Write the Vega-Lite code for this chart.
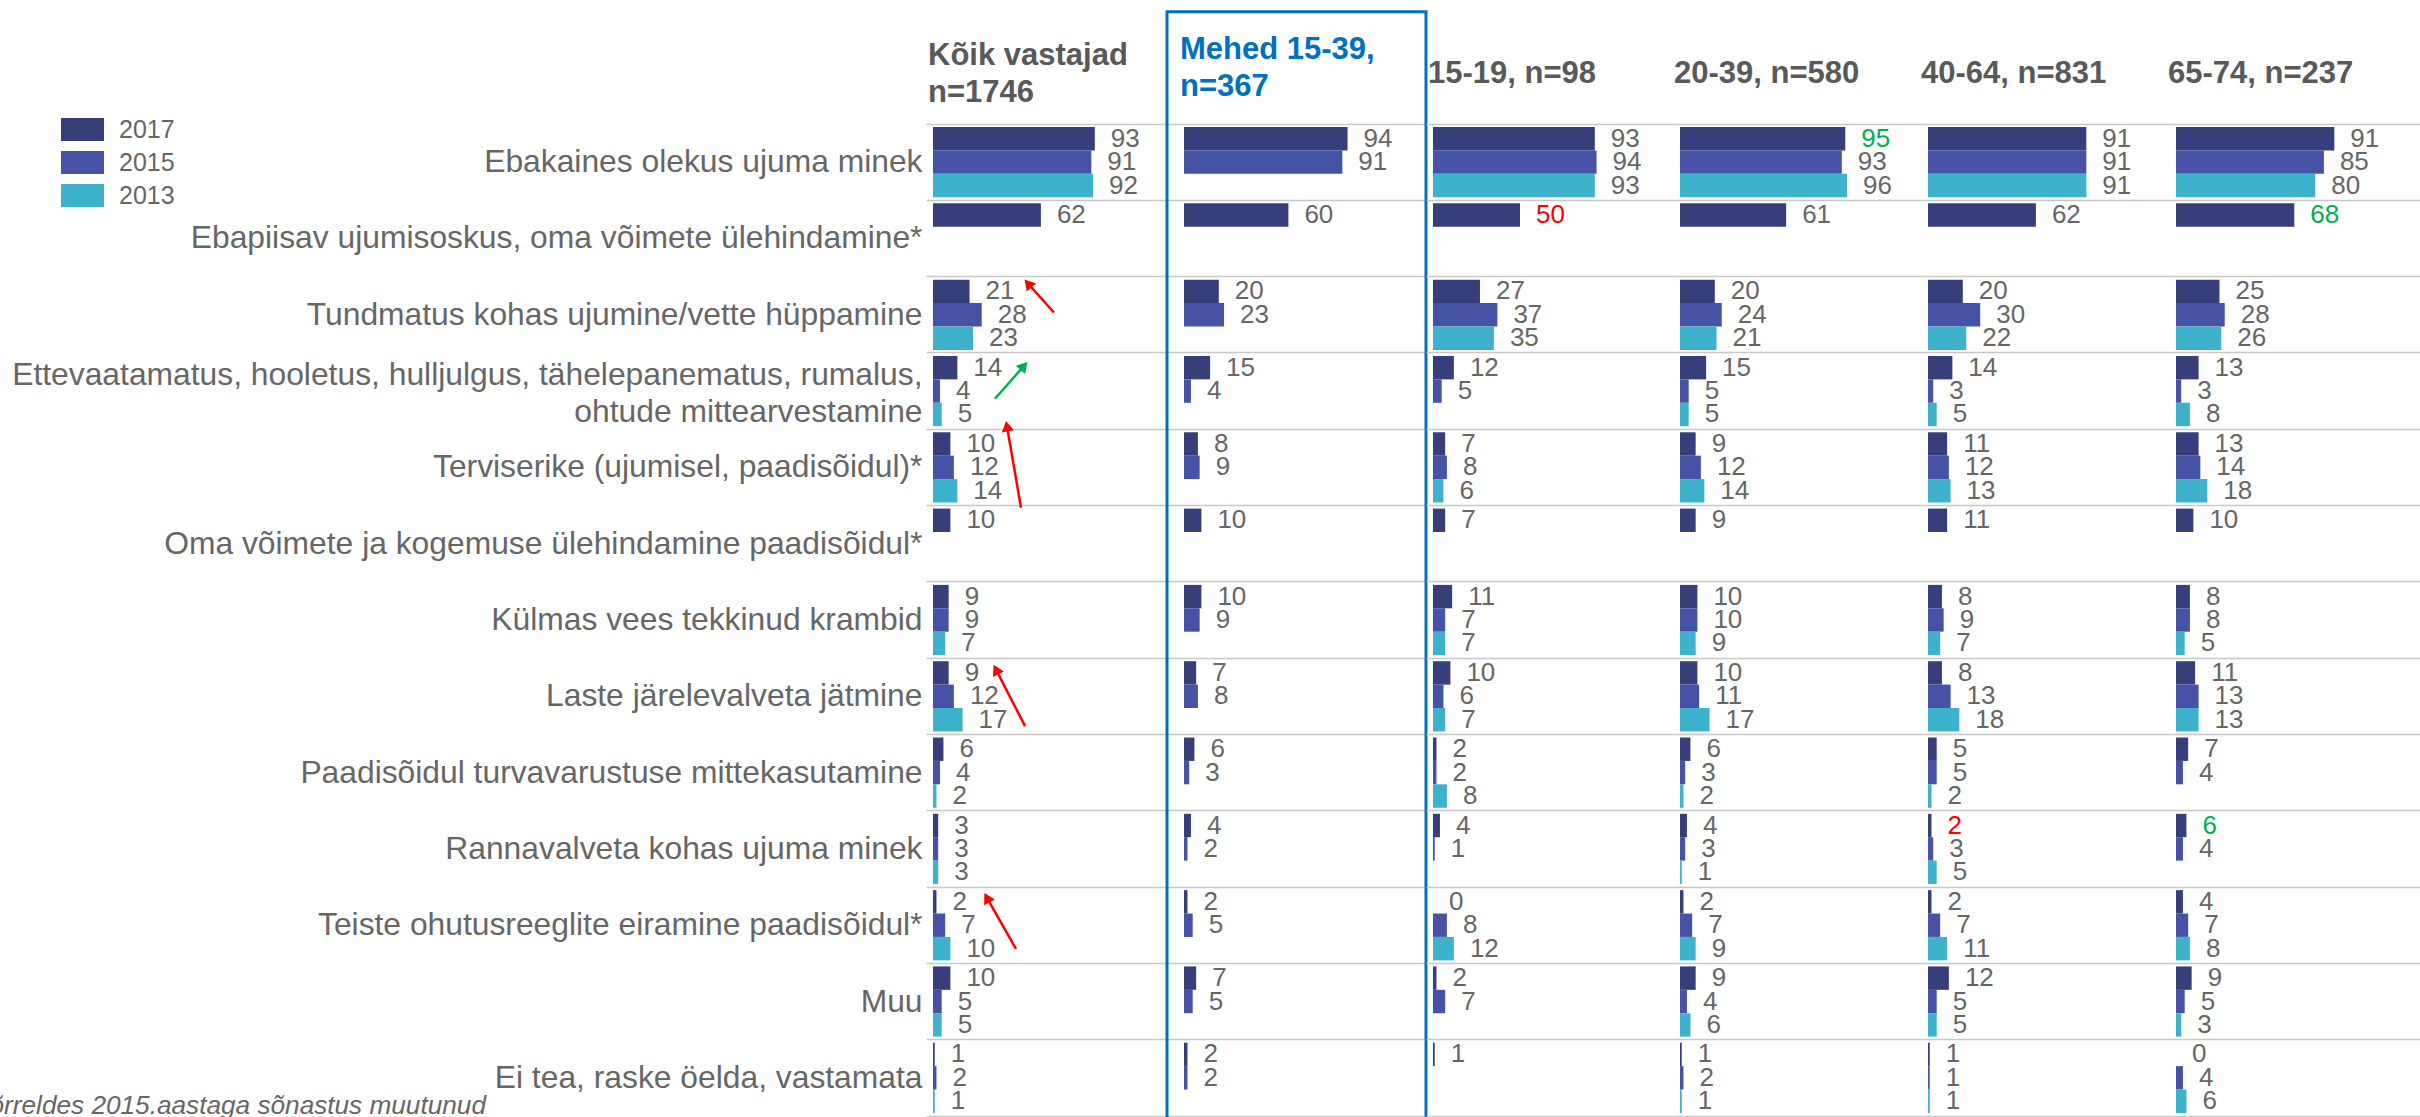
{
  "$schema": "https://vega.github.io/schema/vega-lite/v6.json",
  "autosize": {"type": "none"},
  "padding": {"left": 926, "top": 124, "right": 1494, "bottom": 993},
  "background": "white",
  "spacing": 0,
  "bounds": "flush",
  "datasets": {
    "cats": [
      {"k": 1, "cat": "Ebakaines olekus ujuma minek"},
      {"k": 2, "cat": "Ebapiisav ujumisoskus, oma võimete ülehindamine*"},
      {"k": 3, "cat": "Tundmatus kohas ujumine/vette hüppamine"},
      {"k": 4, "cat": "Ettevaatamatus, hooletus, hulljulgus, tähelepanematus, rumalus, ohtude mittearvestamine"},
      {"k": 5, "cat": "Terviserike (ujumisel, paadisõidul)*"},
      {"k": 6, "cat": "Oma võimete ja kogemuse ülehindamine paadisõidul*"},
      {"k": 7, "cat": "Külmas vees tekkinud krambid"},
      {"k": 8, "cat": "Laste järelevalveta jätmine"},
      {"k": 9, "cat": "Paadisõidul turvavarustuse mittekasutamine"},
      {"k": 10, "cat": "Rannavalveta kohas ujuma minek"},
      {"k": 11, "cat": "Teiste ohutusreeglite eiramine paadisõidul*"},
      {"k": 12, "cat": "Muu"},
      {"k": 13, "cat": "Ei tea, raske öelda, vastamata"}
    ],
    "vals": [
      {"g":"K","k":1,"year":"2017","v":93},{"g":"K","k":1,"year":"2015","v":91},{"g":"K","k":1,"year":"2013","v":92},
      {"g":"K","k":2,"year":"2017","v":62},
      {"g":"K","k":3,"year":"2017","v":21},{"g":"K","k":3,"year":"2015","v":28},{"g":"K","k":3,"year":"2013","v":23},
      {"g":"K","k":4,"year":"2017","v":14},{"g":"K","k":4,"year":"2015","v":4},{"g":"K","k":4,"year":"2013","v":5},
      {"g":"K","k":5,"year":"2017","v":10},{"g":"K","k":5,"year":"2015","v":12},{"g":"K","k":5,"year":"2013","v":14},
      {"g":"K","k":6,"year":"2017","v":10},
      {"g":"K","k":7,"year":"2017","v":9},{"g":"K","k":7,"year":"2015","v":9},{"g":"K","k":7,"year":"2013","v":7},
      {"g":"K","k":8,"year":"2017","v":9},{"g":"K","k":8,"year":"2015","v":12},{"g":"K","k":8,"year":"2013","v":17},
      {"g":"K","k":9,"year":"2017","v":6},{"g":"K","k":9,"year":"2015","v":4},{"g":"K","k":9,"year":"2013","v":2},
      {"g":"K","k":10,"year":"2017","v":3},{"g":"K","k":10,"year":"2015","v":3},{"g":"K","k":10,"year":"2013","v":3},
      {"g":"K","k":11,"year":"2017","v":2},{"g":"K","k":11,"year":"2015","v":7},{"g":"K","k":11,"year":"2013","v":10},
      {"g":"K","k":12,"year":"2017","v":10},{"g":"K","k":12,"year":"2015","v":5},{"g":"K","k":12,"year":"2013","v":5},
      {"g":"K","k":13,"year":"2017","v":1},{"g":"K","k":13,"year":"2015","v":2},{"g":"K","k":13,"year":"2013","v":1},

      {"g":"M","k":1,"year":"2017","v":94},{"g":"M","k":1,"year":"2015","v":91},
      {"g":"M","k":2,"year":"2017","v":60},
      {"g":"M","k":3,"year":"2017","v":20},{"g":"M","k":3,"year":"2015","v":23},
      {"g":"M","k":4,"year":"2017","v":15},{"g":"M","k":4,"year":"2015","v":4},
      {"g":"M","k":5,"year":"2017","v":8},{"g":"M","k":5,"year":"2015","v":9},
      {"g":"M","k":6,"year":"2017","v":10},
      {"g":"M","k":7,"year":"2017","v":10},{"g":"M","k":7,"year":"2015","v":9},
      {"g":"M","k":8,"year":"2017","v":7},{"g":"M","k":8,"year":"2015","v":8},
      {"g":"M","k":9,"year":"2017","v":6},{"g":"M","k":9,"year":"2015","v":3},
      {"g":"M","k":10,"year":"2017","v":4},{"g":"M","k":10,"year":"2015","v":2},
      {"g":"M","k":11,"year":"2017","v":2},{"g":"M","k":11,"year":"2015","v":5},
      {"g":"M","k":12,"year":"2017","v":7},{"g":"M","k":12,"year":"2015","v":5},
      {"g":"M","k":13,"year":"2017","v":2},{"g":"M","k":13,"year":"2015","v":2},

      {"g":"A","k":1,"year":"2017","v":93},{"g":"A","k":1,"year":"2015","v":94},{"g":"A","k":1,"year":"2013","v":93},
      {"g":"A","k":2,"year":"2017","v":50,"sig":"lo"},
      {"g":"A","k":3,"year":"2017","v":27},{"g":"A","k":3,"year":"2015","v":37},{"g":"A","k":3,"year":"2013","v":35},
      {"g":"A","k":4,"year":"2017","v":12},{"g":"A","k":4,"year":"2015","v":5},
      {"g":"A","k":5,"year":"2017","v":7},{"g":"A","k":5,"year":"2015","v":8},{"g":"A","k":5,"year":"2013","v":6},
      {"g":"A","k":6,"year":"2017","v":7},
      {"g":"A","k":7,"year":"2017","v":11},{"g":"A","k":7,"year":"2015","v":7},{"g":"A","k":7,"year":"2013","v":7},
      {"g":"A","k":8,"year":"2017","v":10},{"g":"A","k":8,"year":"2015","v":6},{"g":"A","k":8,"year":"2013","v":7},
      {"g":"A","k":9,"year":"2017","v":2},{"g":"A","k":9,"year":"2015","v":2},{"g":"A","k":9,"year":"2013","v":8},
      {"g":"A","k":10,"year":"2017","v":4},{"g":"A","k":10,"year":"2015","v":1},
      {"g":"A","k":11,"year":"2017","v":0},{"g":"A","k":11,"year":"2015","v":8},{"g":"A","k":11,"year":"2013","v":12},
      {"g":"A","k":12,"year":"2017","v":2},{"g":"A","k":12,"year":"2015","v":7},
      {"g":"A","k":13,"year":"2017","v":1},

      {"g":"B","k":1,"year":"2017","v":95,"sig":"hi"},{"g":"B","k":1,"year":"2015","v":93},{"g":"B","k":1,"year":"2013","v":96},
      {"g":"B","k":2,"year":"2017","v":61},
      {"g":"B","k":3,"year":"2017","v":20},{"g":"B","k":3,"year":"2015","v":24},{"g":"B","k":3,"year":"2013","v":21},
      {"g":"B","k":4,"year":"2017","v":15},{"g":"B","k":4,"year":"2015","v":5},{"g":"B","k":4,"year":"2013","v":5},
      {"g":"B","k":5,"year":"2017","v":9},{"g":"B","k":5,"year":"2015","v":12},{"g":"B","k":5,"year":"2013","v":14},
      {"g":"B","k":6,"year":"2017","v":9},
      {"g":"B","k":7,"year":"2017","v":10},{"g":"B","k":7,"year":"2015","v":10},{"g":"B","k":7,"year":"2013","v":9},
      {"g":"B","k":8,"year":"2017","v":10},{"g":"B","k":8,"year":"2015","v":11},{"g":"B","k":8,"year":"2013","v":17},
      {"g":"B","k":9,"year":"2017","v":6},{"g":"B","k":9,"year":"2015","v":3},{"g":"B","k":9,"year":"2013","v":2},
      {"g":"B","k":10,"year":"2017","v":4},{"g":"B","k":10,"year":"2015","v":3},{"g":"B","k":10,"year":"2013","v":1},
      {"g":"B","k":11,"year":"2017","v":2},{"g":"B","k":11,"year":"2015","v":7},{"g":"B","k":11,"year":"2013","v":9},
      {"g":"B","k":12,"year":"2017","v":9},{"g":"B","k":12,"year":"2015","v":4},{"g":"B","k":12,"year":"2013","v":6},
      {"g":"B","k":13,"year":"2017","v":1},{"g":"B","k":13,"year":"2015","v":2},{"g":"B","k":13,"year":"2013","v":1},

      {"g":"C","k":1,"year":"2017","v":91},{"g":"C","k":1,"year":"2015","v":91},{"g":"C","k":1,"year":"2013","v":91},
      {"g":"C","k":2,"year":"2017","v":62},
      {"g":"C","k":3,"year":"2017","v":20},{"g":"C","k":3,"year":"2015","v":30},{"g":"C","k":3,"year":"2013","v":22},
      {"g":"C","k":4,"year":"2017","v":14},{"g":"C","k":4,"year":"2015","v":3},{"g":"C","k":4,"year":"2013","v":5},
      {"g":"C","k":5,"year":"2017","v":11},{"g":"C","k":5,"year":"2015","v":12},{"g":"C","k":5,"year":"2013","v":13},
      {"g":"C","k":6,"year":"2017","v":11},
      {"g":"C","k":7,"year":"2017","v":8},{"g":"C","k":7,"year":"2015","v":9},{"g":"C","k":7,"year":"2013","v":7},
      {"g":"C","k":8,"year":"2017","v":8},{"g":"C","k":8,"year":"2015","v":13},{"g":"C","k":8,"year":"2013","v":18},
      {"g":"C","k":9,"year":"2017","v":5},{"g":"C","k":9,"year":"2015","v":5},{"g":"C","k":9,"year":"2013","v":2},
      {"g":"C","k":10,"year":"2017","v":2,"sig":"lo"},{"g":"C","k":10,"year":"2015","v":3},{"g":"C","k":10,"year":"2013","v":5},
      {"g":"C","k":11,"year":"2017","v":2},{"g":"C","k":11,"year":"2015","v":7},{"g":"C","k":11,"year":"2013","v":11},
      {"g":"C","k":12,"year":"2017","v":12},{"g":"C","k":12,"year":"2015","v":5},{"g":"C","k":12,"year":"2013","v":5},
      {"g":"C","k":13,"year":"2017","v":1},{"g":"C","k":13,"year":"2015","v":1},{"g":"C","k":13,"year":"2013","v":1},

      {"g":"D","k":1,"year":"2017","v":91},{"g":"D","k":1,"year":"2015","v":85},{"g":"D","k":1,"year":"2013","v":80},
      {"g":"D","k":2,"year":"2017","v":68,"sig":"hi"},
      {"g":"D","k":3,"year":"2017","v":25},{"g":"D","k":3,"year":"2015","v":28},{"g":"D","k":3,"year":"2013","v":26},
      {"g":"D","k":4,"year":"2017","v":13},{"g":"D","k":4,"year":"2015","v":3},{"g":"D","k":4,"year":"2013","v":8},
      {"g":"D","k":5,"year":"2017","v":13},{"g":"D","k":5,"year":"2015","v":14},{"g":"D","k":5,"year":"2013","v":18},
      {"g":"D","k":6,"year":"2017","v":10},
      {"g":"D","k":7,"year":"2017","v":8},{"g":"D","k":7,"year":"2015","v":8},{"g":"D","k":7,"year":"2013","v":5},
      {"g":"D","k":8,"year":"2017","v":11},{"g":"D","k":8,"year":"2015","v":13},{"g":"D","k":8,"year":"2013","v":13},
      {"g":"D","k":9,"year":"2017","v":7},{"g":"D","k":9,"year":"2015","v":4},
      {"g":"D","k":10,"year":"2017","v":6,"sig":"hi"},{"g":"D","k":10,"year":"2015","v":4},
      {"g":"D","k":11,"year":"2017","v":4},{"g":"D","k":11,"year":"2015","v":7},{"g":"D","k":11,"year":"2013","v":8},
      {"g":"D","k":12,"year":"2017","v":9},{"g":"D","k":12,"year":"2015","v":5},{"g":"D","k":12,"year":"2013","v":3},
      {"g":"D","k":13,"year":"2017","v":0},{"g":"D","k":13,"year":"2015","v":4},{"g":"D","k":13,"year":"2013","v":6}
    ],
    "arrows": [
      {"dir": "down", "x1": 69.5, "y1": 2.47, "x2": 54.6, "y2": 2.09, "ang": 319},
      {"dir": "up", "x1": 35.6, "y1": 3.60, "x2": 52.3, "y2": 3.17, "ang": 41},
      {"dir": "down", "x1": 50.6, "y1": 5.03, "x2": 42.5, "y2": 3.96, "ang": 350},
      {"dir": "down", "x1": 52.9, "y1": 7.89, "x2": 36.2, "y2": 7.15, "ang": 333},
      {"dir": "down", "x1": 47.7, "y1": 10.81, "x2": 31.0, "y2": 10.14, "ang": 331}
    ]
  },
  "hconcat": [
    {
      "width": 241, "height": 992,
      "title": {"text": ["Kõik vastajad", "n=1746"], "offset": 8, "dx": 2},
      "data": {"name": "vals"},
      "transform": [{"filter": "datum.g == 'K'"}, {"lookup": "k", "from": {"data": {"name": "cats"}, "key": "k", "fields": ["cat"]}}],
      "layer": [
        {"layer": [
          {"mark": {"type": "bar"},
           "encoding": {
             "y": {"field": "cat", "type": "nominal", "sort": {"field": "k", "op": "min"}, "scale": {"paddingInner": 0, "paddingOuter": 0},
                   "axis": {"labels": true, "labelFontSize": 31.8, "labelColor": "#666666", "labelPadding": 4, "labelLimit": 1200, "labelLineHeight": 37,
                            "labelExpr": "datum.label == 'Ettevaatamatus, hooletus, hulljulgus, tähelepanematus, rumalus, ohtude mittearvestamine' ? ['Ettevaatamatus, hooletus, hulljulgus, tähelepanematus, rumalus,', 'ohtude mittearvestamine'] : datum.label",
                            "labelOffset": {"condition": {"test": "datum.value == 'Ettevaatamatus, hooletus, hulljulgus, tähelepanematus, rumalus, ohtude mittearvestamine'", "value": -16}, "value": 0},
                            "grid": true, "bandPosition": 0, "domain": false, "ticks": false, "title": null}},
             "yOffset": {"field": "year", "type": "nominal", "scale": {"domain": ["2017", "2015", "2013"], "paddingInner": 0, "paddingOuter": 0.13}},
             "x": {"field": "v", "type": "quantitative", "scale": {"domain": [-4.02, 134.48], "nice": false, "zero": false}, "axis": {"domain": true, "grid": false, "labels": false, "ticks": false, "title": null}},
             "x2": {"datum": 0},
             "color": {"field": "year", "type": "nominal", "scale": {"domain": ["2017", "2015", "2013"], "range": ["#363f7a", "#4652a5", "#3eb1cb"]},
                       "legend": {"orient": "none", "legendX": -856, "legendY": -7, "title": null, "symbolType": "M-2,-1.06H2V1.06H-2Z", "symbolSize": 462, "symbolStrokeWidth": 0, "symbolOpacity": 1, "labelFontSize": 25, "labelColor": "#666666", "labelOffset": 24, "rowPadding": 7, "padding": 0}}
           }},
          {"mark": {"type": "text", "align": "left", "baseline": "middle", "dx": 16, "fontSize": 26},
           "encoding": {
             "y": {"field": "cat", "type": "nominal", "sort": {"field": "k", "op": "min"}, "scale": {"paddingInner": 0, "paddingOuter": 0}},
             "yOffset": {"field": "year", "type": "nominal", "scale": {"domain": ["2017", "2015", "2013"], "paddingInner": 0, "paddingOuter": 0.13}},
             "x": {"field": "v", "type": "quantitative", "scale": {"domain": [-4.02, 134.48], "nice": false, "zero": false}},
             "text": {"field": "v", "type": "quantitative"},
             "color": {"condition": [{"test": "datum.sig == 'hi'", "value": "#00b050"}, {"test": "datum.sig == 'lo'", "value": "#ff0000"}], "value": "#666666"}
           }}
        ]},
        {"layer": [
          {"data": {"name": "arrows"},
           "mark": {"type": "rule", "strokeWidth": 2.5},
           "encoding": {
             "x": {"field": "x1", "type": "quantitative", "scale": {"domain": [-4.02, 134.48], "nice": false, "zero": false}},
             "x2": {"field": "x2"},
             "y": {"field": "y1", "type": "quantitative", "scale": {"domain": [0, 13], "reverse": true, "nice": false, "zero": false}, "axis": null},
             "y2": {"field": "y2"},
             "color": {"condition": {"test": "datum.dir == 'up'", "value": "#00b050"}, "value": "#ff0000"}
           }},
          {"data": {"name": "arrows"},
           "mark": {"type": "point", "shape": "triangle-up", "filled": true, "size": 150, "opacity": 1},
           "encoding": {
             "x": {"field": "x2", "type": "quantitative", "scale": {"domain": [-4.02, 134.48], "nice": false, "zero": false}},
             "y": {"field": "y2", "type": "quantitative", "scale": {"domain": [0, 13], "reverse": true, "nice": false, "zero": false}, "axis": null},
             "angle": {"field": "ang", "type": "quantitative", "scale": null},
             "color": {"condition": {"test": "datum.dir == 'up'", "value": "#00b050"}, "value": "#ff0000"}
           }},
          {"data": {"values": [{"note": "*Võrreldes 2015.aastaga sõnastus muutunud"}]},
           "mark": {"type": "text", "align": "right", "baseline": "alphabetic", "fontSize": 26.2, "fontStyle": "italic", "color": "#666666"},
           "encoding": {
             "x": {"datum": -256.9, "type": "quantitative", "scale": {"domain": [-4.02, 134.48], "nice": false, "zero": false}},
             "y": {"datum": 12.97, "type": "quantitative", "scale": {"domain": [0, 13], "reverse": true, "nice": false, "zero": false}, "axis": null},
             "text": {"field": "note"}
           }}
        ]}
      ],
      "resolve": {"scale": {"y": "independent"}}
    },
    {
      "width": 259, "height": 992,
      "title": {"text": ["Mehed 15-39,", "\u2007n=367"], "offset": -92.7, "dx": 13, "color": "#0070c0"},
      "data": {"name": "vals"},
      "transform": [{"filter": "datum.g == 'M'"}, {"lookup": "k", "from": {"data": {"name": "cats"}, "key": "k", "fields": ["cat"]}}],
      "layer": [
        {"layer": [
          {"mark": {"type": "bar"},
           "encoding": {
             "y": {"field": "cat", "type": "nominal", "sort": {"field": "k", "op": "min"}, "scale": {"paddingInner": 0, "paddingOuter": 0},
                   "axis": {"labels": false, "grid": true, "bandPosition": 0, "domain": false, "ticks": false, "title": null}},
             "yOffset": {"field": "year", "type": "nominal", "scale": {"domain": ["2017", "2015", "2013"], "paddingInner": 0, "paddingOuter": 0.13}},
             "x": {"field": "v", "type": "quantitative", "scale": {"domain": [-9.77, 139.08], "nice": false, "zero": false}, "axis": {"domain": true, "grid": false, "labels": false, "ticks": false, "title": null}},
             "x2": {"datum": 0},
             "color": {"field": "year", "type": "nominal", "scale": {"domain": ["2017", "2015", "2013"], "range": ["#363f7a", "#4652a5", "#3eb1cb"]}, "legend": null}
           }},
          {"mark": {"type": "text", "align": "left", "baseline": "middle", "dx": 16, "fontSize": 26},
           "encoding": {
             "y": {"field": "cat", "type": "nominal", "sort": {"field": "k", "op": "min"}, "scale": {"paddingInner": 0, "paddingOuter": 0}},
             "yOffset": {"field": "year", "type": "nominal", "scale": {"domain": ["2017", "2015", "2013"], "paddingInner": 0, "paddingOuter": 0.13}},
             "x": {"field": "v", "type": "quantitative", "scale": {"domain": [-9.77, 139.08], "nice": false, "zero": false}},
             "text": {"field": "v", "type": "quantitative"},
             "color": {"condition": [{"test": "datum.sig == 'hi'", "value": "#00b050"}, {"test": "datum.sig == 'lo'", "value": "#ff0000"}], "value": "#666666"}
           }}
        ]},
        {"data": {"values": [{"box": "Mehed 15-39"}]},
         "mark": {"type": "rect", "fillOpacity": 0, "stroke": "#0070c0", "strokeWidth": 3},
         "encoding": {
           "x": {"datum": -9.77, "type": "quantitative", "scale": {"domain": [-9.77, 139.08], "nice": false, "zero": false}},
           "x2": {"datum": 139.08},
           "y": {"datum": -1.47, "type": "quantitative", "scale": {"domain": [0, 13], "reverse": true, "nice": false, "zero": false}, "axis": null},
           "y2": {"datum": 13.3}
         }}
      ],
      "resolve": {"scale": {"y": "independent"}}
    },
    {
      "width": 247, "height": 992,
      "title": {"text": "15-19, n=98", "offset": 34, "dx": 2},
      "data": {"name": "vals"},
      "transform": [{"filter": "datum.g == 'A'"}, {"lookup": "k", "from": {"data": {"name": "cats"}, "key": "k", "fields": ["cat"]}}],
      "layer": [
        {"mark": {"type": "bar"},
         "encoding": {
           "y": {"field": "cat", "type": "nominal", "sort": {"field": "k", "op": "min"}, "scale": {"paddingInner": 0, "paddingOuter": 0},
                 "axis": {"labels": false, "grid": true, "bandPosition": 0, "domain": false, "ticks": false, "title": null}},
           "yOffset": {"field": "year", "type": "nominal", "scale": {"domain": ["2017", "2015", "2013"], "paddingInner": 0, "paddingOuter": 0.13}},
           "x": {"field": "v", "type": "quantitative", "scale": {"domain": [-4.02, 137.93], "nice": false, "zero": false}, "axis": {"domain": true, "grid": false, "labels": false, "ticks": false, "title": null}},
           "x2": {"datum": 0},
           "color": {"field": "year", "type": "nominal", "scale": {"domain": ["2017", "2015", "2013"], "range": ["#363f7a", "#4652a5", "#3eb1cb"]}, "legend": null}
         }},
        {"mark": {"type": "text", "align": "left", "baseline": "middle", "dx": 16, "fontSize": 26},
         "encoding": {
           "y": {"field": "cat", "type": "nominal", "sort": {"field": "k", "op": "min"}, "scale": {"paddingInner": 0, "paddingOuter": 0}},
           "yOffset": {"field": "year", "type": "nominal", "scale": {"domain": ["2017", "2015", "2013"], "paddingInner": 0, "paddingOuter": 0.13}},
           "x": {"field": "v", "type": "quantitative", "scale": {"domain": [-4.02, 137.93], "nice": false, "zero": false}},
           "text": {"field": "v", "type": "quantitative"},
           "color": {"condition": [{"test": "datum.sig == 'hi'", "value": "#00b050"}, {"test": "datum.sig == 'lo'", "value": "#ff0000"}], "value": "#666666"}
         }}
      ]
    },
    {
      "width": 249, "height": 992,
      "title": {"text": "20-39, n=580", "offset": 34, "dx": 1},
      "data": {"name": "vals"},
      "transform": [{"filter": "datum.g == 'B'"}, {"lookup": "k", "from": {"data": {"name": "cats"}, "key": "k", "fields": ["cat"]}}],
      "layer": [
        {"mark": {"type": "bar"},
         "encoding": {
           "y": {"field": "cat", "type": "nominal", "sort": {"field": "k", "op": "min"}, "scale": {"paddingInner": 0, "paddingOuter": 0},
                 "axis": {"labels": false, "grid": true, "bandPosition": 0, "domain": false, "ticks": false, "title": null}},
           "yOffset": {"field": "year", "type": "nominal", "scale": {"domain": ["2017", "2015", "2013"], "paddingInner": 0, "paddingOuter": 0.13}},
           "x": {"field": "v", "type": "quantitative", "scale": {"domain": [-4.02, 139.08], "nice": false, "zero": false}, "axis": {"domain": true, "grid": false, "labels": false, "ticks": false, "title": null}},
           "x2": {"datum": 0},
           "color": {"field": "year", "type": "nominal", "scale": {"domain": ["2017", "2015", "2013"], "range": ["#363f7a", "#4652a5", "#3eb1cb"]}, "legend": null}
         }},
        {"mark": {"type": "text", "align": "left", "baseline": "middle", "dx": 16, "fontSize": 26},
         "encoding": {
           "y": {"field": "cat", "type": "nominal", "sort": {"field": "k", "op": "min"}, "scale": {"paddingInner": 0, "paddingOuter": 0}},
           "yOffset": {"field": "year", "type": "nominal", "scale": {"domain": ["2017", "2015", "2013"], "paddingInner": 0, "paddingOuter": 0.13}},
           "x": {"field": "v", "type": "quantitative", "scale": {"domain": [-4.02, 139.08], "nice": false, "zero": false}},
           "text": {"field": "v", "type": "quantitative"},
           "color": {"condition": [{"test": "datum.sig == 'hi'", "value": "#00b050"}, {"test": "datum.sig == 'lo'", "value": "#ff0000"}], "value": "#666666"}
         }}
      ]
    },
    {
      "width": 249, "height": 992,
      "title": {"text": "40-64, n=831", "offset": 34, "dx": -1},
      "data": {"name": "vals"},
      "transform": [{"filter": "datum.g == 'C'"}, {"lookup": "k", "from": {"data": {"name": "cats"}, "key": "k", "fields": ["cat"]}}],
      "layer": [
        {"mark": {"type": "bar"},
         "encoding": {
           "y": {"field": "cat", "type": "nominal", "sort": {"field": "k", "op": "min"}, "scale": {"paddingInner": 0, "paddingOuter": 0},
                 "axis": {"labels": false, "grid": true, "bandPosition": 0, "domain": false, "ticks": false, "title": null}},
           "yOffset": {"field": "year", "type": "nominal", "scale": {"domain": ["2017", "2015", "2013"], "paddingInner": 0, "paddingOuter": 0.13}},
           "x": {"field": "v", "type": "quantitative", "scale": {"domain": [-3.45, 139.65], "nice": false, "zero": false}, "axis": {"domain": true, "grid": false, "labels": false, "ticks": false, "title": null}},
           "x2": {"datum": 0},
           "color": {"field": "year", "type": "nominal", "scale": {"domain": ["2017", "2015", "2013"], "range": ["#363f7a", "#4652a5", "#3eb1cb"]}, "legend": null}
         }},
        {"mark": {"type": "text", "align": "left", "baseline": "middle", "dx": 16, "fontSize": 26},
         "encoding": {
           "y": {"field": "cat", "type": "nominal", "sort": {"field": "k", "op": "min"}, "scale": {"paddingInner": 0, "paddingOuter": 0}},
           "yOffset": {"field": "year", "type": "nominal", "scale": {"domain": ["2017", "2015", "2013"], "paddingInner": 0, "paddingOuter": 0.13}},
           "x": {"field": "v", "type": "quantitative", "scale": {"domain": [-3.45, 139.65], "nice": false, "zero": false}},
           "text": {"field": "v", "type": "quantitative"},
           "color": {"condition": [{"test": "datum.sig == 'hi'", "value": "#00b050"}, {"test": "datum.sig == 'lo'", "value": "#ff0000"}], "value": "#666666"}
         }}
      ]
    },
    {
      "width": 249, "height": 992,
      "title": {"text": "65-74, n=237", "offset": 34, "dx": -3},
      "data": {"name": "vals"},
      "transform": [{"filter": "datum.g == 'D'"}, {"lookup": "k", "from": {"data": {"name": "cats"}, "key": "k", "fields": ["cat"]}}],
      "layer": [
        {"mark": {"type": "bar"},
         "encoding": {
           "y": {"field": "cat", "type": "nominal", "sort": {"field": "k", "op": "min"}, "scale": {"paddingInner": 0, "paddingOuter": 0},
                 "axis": {"labels": false, "grid": true, "bandPosition": 0, "domain": false, "ticks": false, "title": null}},
           "yOffset": {"field": "year", "type": "nominal", "scale": {"domain": ["2017", "2015", "2013"], "paddingInner": 0, "paddingOuter": 0.13}},
           "x": {"field": "v", "type": "quantitative", "scale": {"domain": [-2.87, 140.23], "nice": false, "zero": false}, "axis": {"domain": true, "grid": false, "labels": false, "ticks": false, "title": null}},
           "x2": {"datum": 0},
           "color": {"field": "year", "type": "nominal", "scale": {"domain": ["2017", "2015", "2013"], "range": ["#363f7a", "#4652a5", "#3eb1cb"]}, "legend": null}
         }},
        {"mark": {"type": "text", "align": "left", "baseline": "middle", "dx": 16, "fontSize": 26},
         "encoding": {
           "y": {"field": "cat", "type": "nominal", "sort": {"field": "k", "op": "min"}, "scale": {"paddingInner": 0, "paddingOuter": 0}},
           "yOffset": {"field": "year", "type": "nominal", "scale": {"domain": ["2017", "2015", "2013"], "paddingInner": 0, "paddingOuter": 0.13}},
           "x": {"field": "v", "type": "quantitative", "scale": {"domain": [-2.87, 140.23], "nice": false, "zero": false}},
           "text": {"field": "v", "type": "quantitative"},
           "color": {"condition": [{"test": "datum.sig == 'hi'", "value": "#00b050"}, {"test": "datum.sig == 'lo'", "value": "#ff0000"}], "value": "#666666"}
         }}
      ]
    }
  ],
  "resolve": {"scale": {"color": "independent", "x": "independent", "y": "independent", "yOffset": "independent"}, "legend": {"color": "independent"}},
  "config": {
    "font": "Liberation Sans",
    "view": {"stroke": null},
    "title": {"anchor": "start", "frame": "group", "fontSize": 31, "fontWeight": "bold", "color": "#595959", "lineHeight": 37},
    "axis": {"gridColor": "#c8c8c8", "gridWidth": 1.5, "domainColor": "#c8c8c8", "domainWidth": 1.5},
    "legend": {"labelFontSize": 25, "labelColor": "#666666", "labelFont": "Liberation Sans"}
  }
}
